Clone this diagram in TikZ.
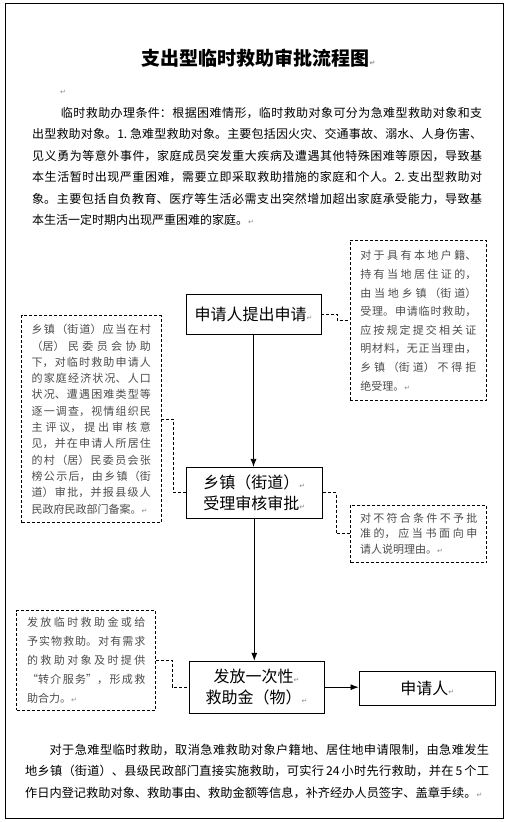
\documentclass[tikz,border=0pt]{standalone}
\usepackage{fontspec}
\setmainfont{Noto Sans CJK SC}
\newfontfamily\markfont{DejaVu Sans}
\usetikzlibrary{arrows.meta}
\XeTeXlinebreaklocale "zh"
\XeTeXlinebreakskip = 0pt plus 3pt
\newcommand{\retmark}{{\markfont\fontsize{7}{7}\selectfont\textcolor{black!45}{↵}}}

\begin{document}
\begin{tikzpicture}[x=1pt, y=-1pt,
        stepbox/.style={draw, line width=0.8pt, align=center, inner sep=0pt,
            font=\fontsize{16}{21}\selectfont},
        note/.style={draw, dash pattern=on 3pt off 2pt, line width=0.8pt,
            align=justify, inner sep=0pt, text=black!70},
        para/.style={align=justify, inner sep=0pt, anchor=north west},
        link/.style={draw, dash pattern=on 3pt off 2pt, line width=0.7pt},
        flow/.style={-{Latex[length=8pt,width=6pt]}, line width=0.8pt}
    ]

    \fill[white] (0,0) rectangle (510,822);
    \useasboundingbox (0,0) rectangle (510,822);
    \draw[line width=0.8pt] (5,3) rectangle (503,818);

    % TITLE AND CONDITIONS
    \node[font=\bfseries\fontsize{19}{19}\selectfont] (title) at (258.5,58.5)
        {支出型临时救助审批流程图\retmark};
    \node (blank) at (63,92) {\retmark};
    \node[para, text width=450pt, font=\fontsize{12}{21.5}\selectfont] (cond) at (32,106.7)
        {\hspace*{2.4em}临时救助办理条件：根据困难情形，临时救助对象可分为急难型救助对象和支\linebreak
        出型救助对象。1.~急难型救助对象。主要包括因火灾、交通事故、溺水、人身伤害、\linebreak
        见义勇为等意外事件，家庭成员突发重大疾病及遭遇其他特殊困难等原因，导致基\linebreak
        本生活暂时出现严重困难，需要立即采取救助措施的家庭和个人。2.~支出型救助对\linebreak
        象。主要包括自负教育、医疗等生活必需支出突然增加超出家庭承受能力，导致基\linebreak
        本生活一定时期内出现严重困难的家庭。\retmark};

    % FLOW BOXES
    \node[stepbox, minimum width=135pt, minimum height=40pt] (apply) at (253.5,314)
        {申请人提出申请\retmark};
    \node[stepbox, minimum width=136.7pt, minimum height=51pt] (review) at (254.3,492.8)
        {乡镇（街道）\retmark\\受理审核审批\retmark};
    \node[stepbox, minimum width=135pt, minimum height=52pt] (grant) at (256.5,687.2)
        {发放一次性\retmark\\救助金（物）\retmark};
    \node[stepbox, minimum width=136.7pt, minimum height=34pt] (person) at (427.3,688.3)
        {申请人\retmark};

    % NOTES
    \node[note, text width=116pt, minimum width=136.7pt, minimum height=160pt,
        font=\fontsize{11}{18.6}\selectfont] (accept) at (418.3,320.7)
        {对于具有本地户籍、\linebreak
        持有当地居住证的，\linebreak
        由当地乡镇（街道）\linebreak
        受理。申请临时救助，\linebreak
        应按规定提交相关证\linebreak
        明材料，无正当理由，\linebreak
        乡镇（街道）不得拒\linebreak
        绝受理。\retmark};
    \node[note, text width=119.3pt, minimum width=139.3pt, minimum height=207pt,
        font=\fontsize{11}{16.3}\selectfont] (survey) at (91.3,419.2)
        {乡镇（街道）应当在村\linebreak
        （居）民委员会协助\linebreak
        下，对临时救助申请人\linebreak
        的家庭经济状况、人口\linebreak
        状况、遭遇困难类型等\linebreak
        逐一调查，视情组织民\linebreak
        主评议，提出审核意\linebreak
        见，并在申请人所居住\linebreak
        的村（居）民委员会张\linebreak
        榜公示后，由乡镇（街\linebreak
        道）审批，并报县级人\linebreak
        民政府民政部门备案。\retmark};
    \node[note, text width=117.4pt, minimum width=136pt, minimum height=57.7pt,
        font=\fontsize{11}{15.5}\selectfont] (refuse) at (418.7,533.8)
        {对不符合条件不予批\linebreak
        准的，应当书面向申\linebreak
        请人说明理由。\retmark};
    \node[note, text width=118.3pt, minimum width=139pt, minimum height=99.3pt,
        font=\fontsize{11}{18.9}\selectfont] (refer) at (86.2,660.3)
        {发放临时救助金或给\linebreak
        予实物救助。对有需求\linebreak
        的救助对象及时提供\linebreak
        “转介服务”，形成救\linebreak
        助合力。\retmark};

    % CONNECTORS
    \draw[flow] (apply.south) -- (apply.south |- review.north);
    \draw[flow] (review.south) -- (review.south |- grant.north);
    \draw[flow] (grant.east) -- (grant.east -| person.west);
    \draw[link] (apply.east) -- ++(15.7,0) |- (accept.west);
    \draw[link] (survey.east) -- ++(12.3,0) |- (review.west);
    \draw[link] (review.east) -- ++(13.3,0) |- (refuse.west);
    \draw[link] (refer.east) -- ++(16,0) |- (grant.west);

    % EMERGENCY NOTE
    \node[para, text width=464pt, font=\fontsize{12.2}{21.35}\selectfont] (urgent) at (25,744)
        {\hspace*{2em}对于急难型临时救助，取消急难救助对象户籍地、居住地申请限制，由急难发生\linebreak
        地乡镇（街道）、县级民政部门直接实施救助，可实行\,24\,小时先行救助，并在\,5\,个工\linebreak
        作日内登记救助对象、救助事由、救助金额等信息，补齐经办人员签字、盖章手续。\retmark};

\end{tikzpicture}
\end{document}
